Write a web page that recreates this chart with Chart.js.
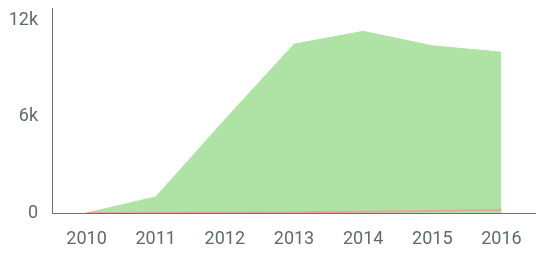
<!DOCTYPE html>
<html>
<head>
<meta charset="utf-8">
<script src="https://cdn.jsdelivr.net/npm/chart.js@4/dist/chart.umd.min.js"></script>
<style>
  html, body { margin: 0; padding: 0; background: #fff; }
  #wrap { width: 536px; height: 255px; position: relative; }
</style>
</head>
<body>
<div id="wrap"><canvas id="chart"></canvas></div>
<script>
// years on the x axis
const years = ["2010", "2011", "2012", "2013", "2014", "2015", "2016"];
// big green area (total)
const greenValues = [0, 1000, 5800, 10500, 11300, 10400, 10000];
// small red series hugging the baseline
const redValues = [0, 10, 30, 50, 80, 120, 200];
// y tick positions
const yTicks = [0, 6000, 12000];
const yTickLabels = ["0", "6k", "12k"];

const textColor = "#5e6a6c";
const axisColor = "#6f6f6f";

new Chart(document.getElementById("chart"), {
  type: "line",
  data: {
    labels: years,
    datasets: [
      {
        label: "Red",
        data: redValues,
        borderColor: "#eaa59c",
        borderWidth: 2,
        pointRadius: 0,
        fill: false,
        tension: 0,
        order: 0,
      },
      {
        label: "Green",
        data: greenValues,
        borderColor: "#afe3a5",
        backgroundColor: "#afe3a5",
        borderWidth: 1,
        pointRadius: 0,
        fill: "origin",
        tension: 0,
        order: 1,
      },
    ],
  },
  options: {
    responsive: true,
    maintainAspectRatio: false,
    animation: false,
    layout: { padding: { top: 8, right: 0, left: 0, bottom: 0 } },
    plugins: { legend: { display: false }, tooltip: { enabled: false } },
    scales: {
      x: {
        offset: true,
        afterFit: (axis) => {
          axis.height = 42;
          axis.paddingLeft = 0;
          axis.paddingRight = 0;
        },
        grid: { display: false, drawTicks: false },
        border: { display: true, color: axisColor, width: 1 },
        ticks: {
          color: textColor,
          font: { family: "Roboto", size: 18 },
          padding: 16,
          maxRotation: 0,
        },
      },
      y: {
        min: 0,
        max: 12750,
        afterFit: (axis) => {
          axis.width = 52;
          axis.paddingTop = 0;
          axis.paddingBottom = 0;
        },
        afterBuildTicks: (axis) => {
          axis.ticks = yTicks.map((v) => ({ value: v }));
        },
        grid: { display: false, drawTicks: false },
        border: { display: true, color: axisColor, width: 1 },
        ticks: {
          color: textColor,
          font: { family: "Roboto", size: 18 },
          padding: 14,
          callback: (v) => yTickLabels[yTicks.indexOf(v)],
        },
      },
    },
  },
});
</script>
</body>
</html>
